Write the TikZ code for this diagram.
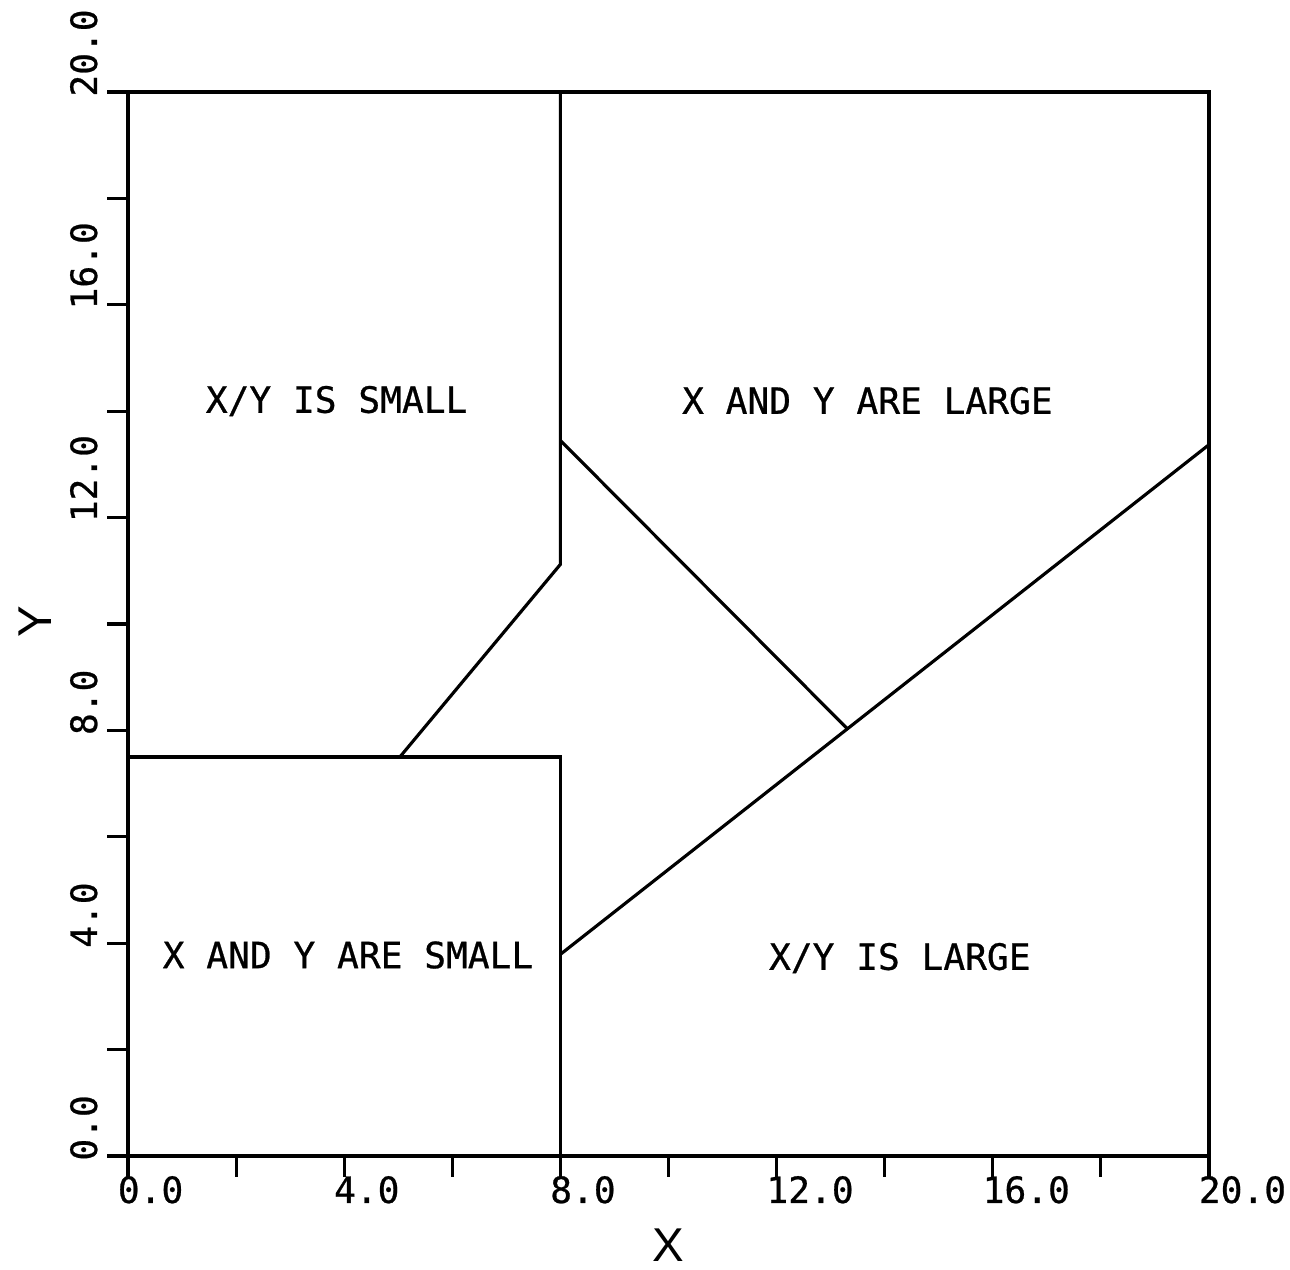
\documentclass[tikz,border=0pt]{standalone}
\usepackage{fontspec}
\setmonofont[FakeBold=0.7]{DejaVu Sans Mono}
\setsansfont{Liberation Sans}
\usetikzlibrary{calc}
\tikzset{
  frameline/.style={line width=0.95pt, line cap=round, line join=miter},
  bound/.style={line width=0.9pt, line cap=round},
  tickline/.style={line width=0.9pt},
  regionlab/.style={font=\fontsize{10.3}{12}\selectfont\ttfamily, inner sep=0pt, anchor=base},
  ticklab/.style={font=\fontsize{10.3}{12}\selectfont\ttfamily, inner sep=0pt, anchor=base west},
  axislab/.style={font=\fontsize{13.5}{16}\selectfont\sffamily, inner sep=0pt, anchor=base},
}
\begin{document}
\begin{tikzpicture}[x=0.5405cm, y=0.532cm]
\useasboundingbox (-2.368,-2.143) rectangle (21.499,21.729);
% frame corners
\coordinate (o) at (0,0);
\coordinate (br) at (20,0);
\coordinate (tr) at (20,20);
\coordinate (tl) at (0,20);
\draw[frameline] (o) -- (br) -- (tr) -- (tl) -- cycle;
% ticks
\foreach \v in {0,2,...,20} {
  \draw[tickline] (\v,0) -- (\v,-0.39);
  \draw[tickline] (0,\v) -- (-0.39,\v);
}
% tick labels
\foreach \v/\t in {0/0.0,4/4.0,8/8.0,12/12.0,16/16.0,20/20.0} {
  \node[ticklab] (xl\v) at (\v-0.2,-0.883) {\t};
  \node[ticklab, rotate=90] (yl\v) at (-0.574,\v-0.1) {\t};
}
\node[axislab] (xlab) at (9.99,-1.99) {X};
\node[axislab, rotate=90] (ylab) at (-1.41,10.04) {Y};
% region boundaries
\coordinate (a1) at (8,20);
\coordinate (a2) at (8,11.12);
\coordinate (b2) at (5.03,7.5);
\coordinate (c1) at (0,7.5);
\coordinate (c2) at (8,7.5);
\coordinate (c3) at (8,0);
\coordinate (d1) at (8,3.79);
\coordinate (d2) at (20,13.37);
\coordinate (e1) at (8,13.45);
\coordinate (e2) at ($(d1)!0.4425!(d2)$);
\draw[bound] (a1) -- (a2) -- (b2);
\draw[bound] (c1) -- (c2) -- (c3);
\draw[bound] (d1) -- (d2);
\draw[bound] (e1) -- (e2);
% region labels
\node[regionlab] (r1) at (3.86,13.97) {X/Y IS SMALL};
\node[regionlab] (r2) at (13.68,13.95) {X AND Y ARE LARGE};
\node[regionlab] (r3) at (4.07,3.53) {X AND Y ARE SMALL};
\node[regionlab] (r4) at (14.28,3.50) {X/Y IS LARGE};
\end{tikzpicture}
\end{document}
